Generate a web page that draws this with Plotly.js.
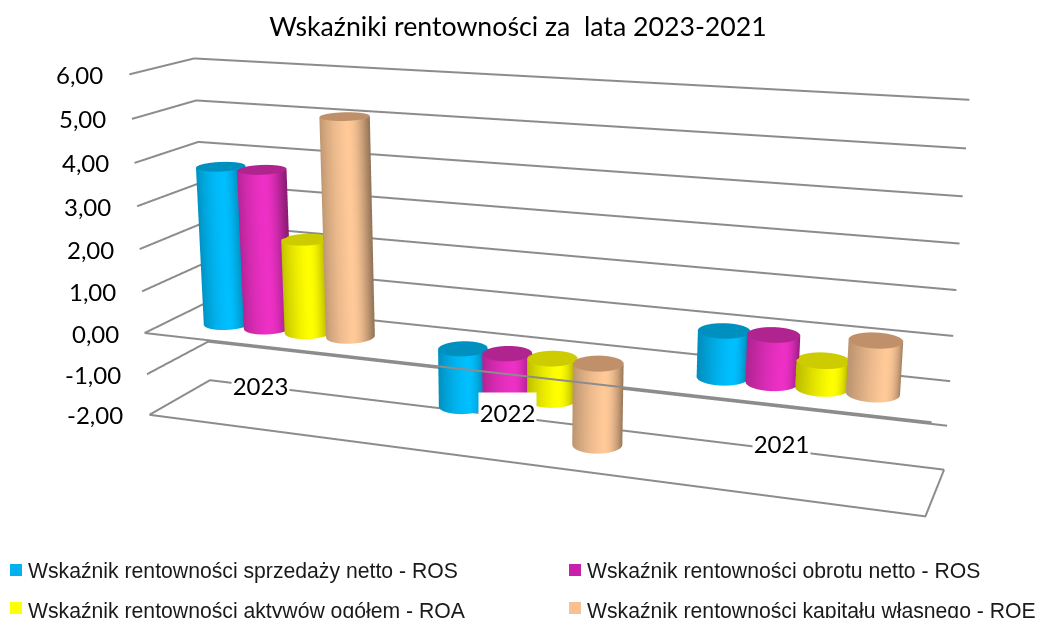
<!DOCTYPE html>
<html><head><meta charset="utf-8">
<script src="https://cdn.plot.ly/plotly-3.0.1.min.js"></script>
<style>html,body{margin:0;padding:0;background:#fff;width:1040px;height:618px;overflow:hidden}#w{position:relative;width:1040px;height:618px;overflow:hidden}#c{position:absolute}</style></head>
<body><div id="w"><div id="c"></div></div>
<script>
const categories=['2023','2022','2021'];
const seriesNames=['Wskaźnik rentowności sprzedaży netto - ROS','Wskaźnik rentowności obrotu netto - ROS','Wskaźnik rentowności aktywów ogółem - ROA','Wskaźnik rentowności kapitału własnego - ROE'];
const rosSales=[3.75,-1.35,1.03];
const rosTurnover=[3.75,-0.9,1.05];
const roa=[2.2,-0.95,0.6];
const roe=[5.1,-1.88,1.15];
const tickValues=[6,5,4,3,2,1,0,-1,-2];
const tickLabels=['6,00','5,00','4,00','3,00','2,00','1,00','0,00','-1,00','-2,00'];
const peakColors=[[0,191,255],[238,48,198],[255,255,0],[255,201,152]];
const capColors=[[0,144,192],[176,36,144],[204,204,0],[192,144,106]];
const swatchColors=['#00b0f0','#c820a8','#ffff00','#fac090'];

const W=1040,H=618;
const K=2.3926,LW=Math.round(W*K),LH=Math.round(H*K),OX=(LW-W)/2,OY=(LH-H)/2;
const cEl=document.getElementById('c');cEl.style.left=(-OX)+'px';cEl.style.top=(-OY)+'px';
const px=x=>(x+OX)/LW,py=y=>1-(y+OY)/LH;

const barRx=0.092,barRy=0.21,barSpacing=0.178;
const allSeries=[rosSales,rosTurnover,roa,roe];
const N=72;
function shade(c,th){
 const t=Math.sin(th+1.22),peak=0.26;
 const b=t<peak?1-0.26*Math.pow((peak-t)/(1+peak),1.5):1-0.42*Math.pow((t-peak)/(1-peak),1.8);
 return 'rgb('+c.map(v=>Math.round(v*b)).join(',')+')';}
const traces=[];
const xMin=0,xMax=3,yMin=0,yMax=1,zMin=-2,zMax=6;
const xPad=0.01,yPad=0.01,zPad=0.02;
function line(x,y,z){traces.push({type:'scatter3d',mode:'lines',x,y,z,line:{color:'#8c8c8c',width:4},hoverinfo:'skip',showlegend:false});}
tickValues.forEach(t=>{line([xMin,xMin,xMax],[yMin,yMax,yMax],[t,t,t]);});
line([xMin,xMax],[yMin,yMin],[0,0]);
line([xMin,xMax,xMax],[yMin,yMin,yMax],[zMin,zMin,zMin]);
allSeries.forEach((vals,s)=>{
 const X=[],Y=[],Z=[],I=[],J=[],KK=[],C=[];
 vals.forEach((v,c)=>{
  const cx=c+0.5+(s-1.5)*barSpacing,cy=0.5,top=Math.max(0,v),bot=Math.min(0,v);
  const base=X.length;
  for(let i=0;i<N;i++){const th=i/N*2*Math.PI;
   X.push(cx+barRx*Math.cos(th),cx+barRx*Math.cos(th));Y.push(cy+barRy*Math.sin(th),cy+barRy*Math.sin(th));Z.push(bot,top);
   const col=shade(peakColors[s],th);C.push(col,col);
   const a=base+2*i,b=base+2*((i+1)%N);I.push(a,a+1);J.push(b,b);KK.push(a+1,b+1);
  }
  const cb=X.length;X.push(cx);Y.push(cy);Z.push(top);const capc='rgb('+capColors[s].join(',')+')';C.push(capc);
  for(let i=0;i<N;i++){const th=i/N*2*Math.PI;X.push(cx+barRx*Math.cos(th));Y.push(cy+barRy*Math.sin(th));Z.push(top);C.push(capc);
   I.push(cb);J.push(cb+1+i);KK.push(cb+1+(i+1)%N);}
 });
 traces.push({type:'mesh3d',name:seriesNames[s],x:X,y:Y,z:Z,i:I,j:J,k:KK,vertexcolor:C,lighting:{ambient:1,diffuse:0,specular:0,roughness:1,fresnel:0},hoverinfo:'skip',showlegend:false});
});
const scAnn=[];
const labelFont={family:'Lato',size:24,color:'#000'};
tickValues.forEach((t,i)=>scAnn.push({x:xMin,y:yMin,z:t,text:tickLabels[i],showarrow:false,xanchor:'right',yanchor:'middle',xshift:-24,font:labelFont}));
const catXShift=[-31,-22,-11],catYShift=[28,31,33];
categories.forEach((c,i)=>scAnn.push({x:i+.5,y:.5,z:zMin,text:c,showarrow:false,xanchor:'center',yanchor:'middle',xshift:catXShift[i],yshift:catYShift[i],bgcolor:'#fff',borderpad:0,width:57,height:34,valign:'bottom',font:labelFont}));
const off={showgrid:false,zeroline:false,showline:false,showticklabels:false,showbackground:false,showspikes:false,ticks:'',title:{text:''}};
const swX=[10,569],swY=[569.5,607.5],txtY=[570,610];
const shapes=[],anns=[];
seriesNames.forEach((n,i)=>{const col=i%2,row=i>>1;
 shapes.push({type:'rect',xref:'paper',yref:'paper',x0:px(swX[col]),x1:px(swX[col]+12),y0:py(swY[row]+6),y1:py(swY[row]-6),fillcolor:swatchColors[i],line:{width:0}});
 anns.push({xref:'paper',yref:'paper',x:px(swX[col]+16),y:py(txtY[row]),text:n,showarrow:false,xanchor:'left',yanchor:'middle',font:{family:'Liberation Sans',size:21.2,color:'#1a1a1a'}});
});
const layout={width:LW,height:LH,margin:{l:0,r:0,t:0,b:0},paper_bgcolor:'#fff',showlegend:false,
 title:{text:'Wskaźniki rentowności za\u00a0 lata 2023-2021',x:px(518),xanchor:'center',y:py(26),yanchor:'middle',font:{family:'Lato',size:26.7,color:'#000'}},
 scene:{domain:{x:[0,1],y:[0,1]},aspectmode:'manual',
  aspectratio:{x:2.2451*(xMax-xMin+2*xPad)/(xMax-xMin),y:0.3515*(yMax-yMin+2*yPad)/(yMax-yMin),z:(zMax-zMin+2*zPad)/(zMax-zMin)},
  xaxis:{...off,range:[xMin-xPad,xMax+xPad]},yaxis:{...off,range:[yMin-yPad,yMax+yPad]},zaxis:{...off,range:[zMin-zPad,zMax+zPad]},
  camera:{eye:{x:1.6219,y:-4.4460,z:1.2096},center:{x:-0.0286,y:0,z:-0.1188},up:{x:0,y:0,z:1},projection:{type:'perspective'}},
  annotations:scAnn},
 shapes,annotations:anns};
Plotly.newPlot('c',traces,layout,{displayModeBar:false});
</script></body></html>
